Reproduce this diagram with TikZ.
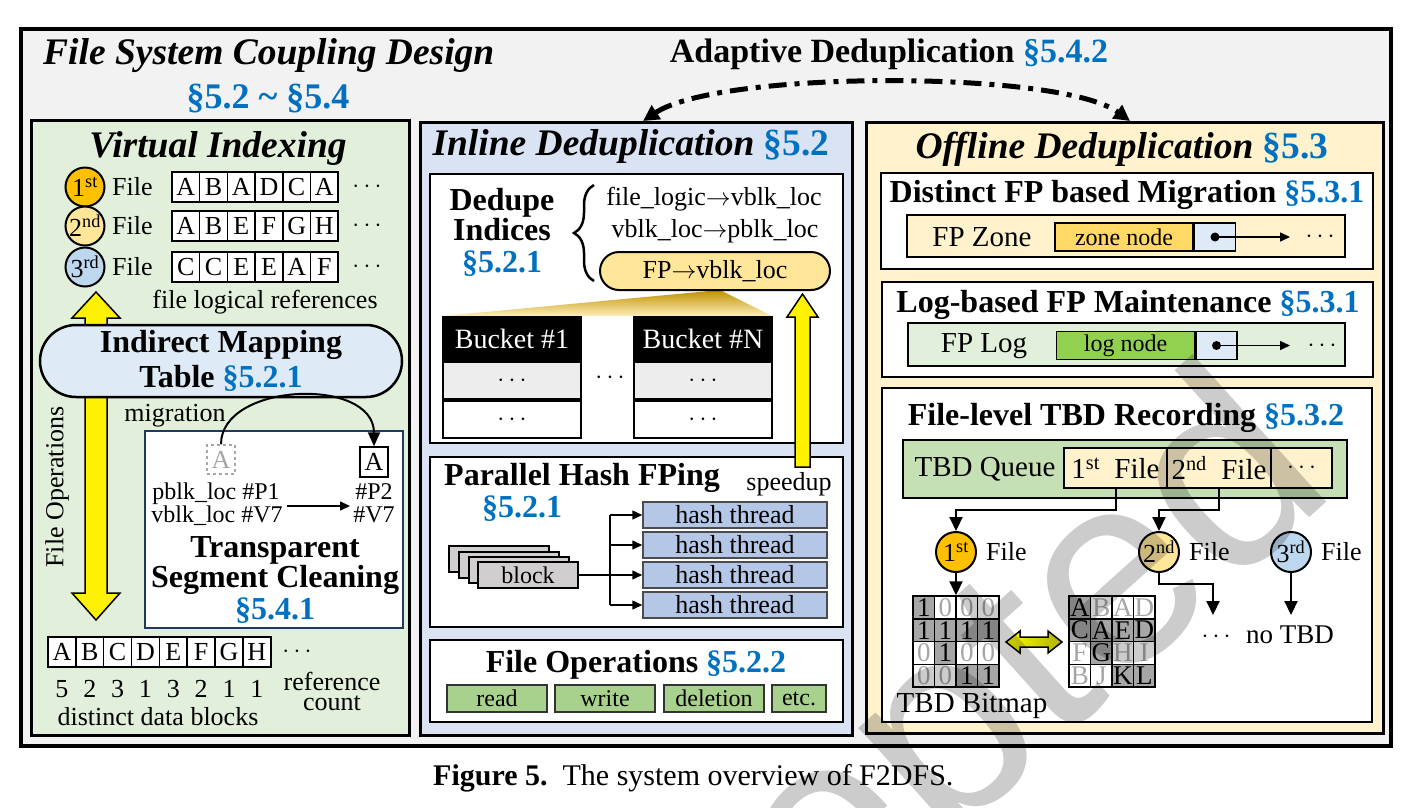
\documentclass[tikz,border=0pt]{standalone}
\usepackage{fontspec}
\setmainfont{Liberation Serif}
\newfontfamily\wmfont{Liberation Sans}
\usetikzlibrary{arrows.meta,decorations.pathreplacing}

\definecolor{bgray}{HTML}{F2F2F2}
\definecolor{vigreen}{HTML}{E2EFDA}
\definecolor{idblue}{HTML}{DAE3F3}
\definecolor{odyellow}{HTML}{FFF2CC}
\definecolor{secblue}{HTML}{0070C0}
\definecolor{c1st}{HTML}{FFC000}
\definecolor{c2nd}{HTML}{FFE699}
\definecolor{c3rd}{HTML}{BDD7EE}
\definecolor{imtblue}{HTML}{DEEBF7}
\definecolor{fpyellow}{HTML}{FFE699}
\definecolor{fpgold}{HTML}{BF9000}
\definecolor{rowgray}{HTML}{EDEDED}
\definecolor{hashblue}{HTML}{B4C7E7}
\definecolor{blkgray}{HTML}{D0CECE}
\definecolor{opgreen}{HTML}{A9D18E}
\definecolor{zonegold}{HTML}{FFD966}
\definecolor{ptrblue}{HTML}{DEEBF7}
\definecolor{loggreen}{HTML}{92D050}
\definecolor{qgreen}{HTML}{C5E0B4}
\definecolor{bitgray}{HTML}{A6A6A6}
\definecolor{tscnavy}{HTML}{1F3864}
\definecolor{dblolive}{HTML}{B0B000}

\newcommand\fTitle{\fontsize{37.5}{40}\selectfont\bfseries\itshape}
\newcommand\fHead{\fontsize{32}{34}\selectfont\bfseries}
\newcommand\fBody{\fontsize{26}{28}\selectfont}
\newcommand\fMid{\fontsize{29}{31}\selectfont}
\newcommand\fSmall{\fontsize{24}{26}\selectfont}
\newcommand\sref[1]{\textcolor{secblue}{\upshape\bfseries #1}}

\tikzset{
  panel/.style={draw=black,line width=3pt},
  subbox/.style={draw=black,fill=white,line width=2.5pt},
  txt/.style={inner sep=0pt,font=\fBody},
  hdr/.style={inner sep=0pt,font=\fHead,anchor=base},
  ttl/.style={inner sep=0pt,font=\fTitle,anchor=base},
  lcell/.style={draw=black,fill=white,line width=1.5pt,minimum width=27.7pt,minimum height=30pt,inner sep=0pt,font=\fBody},
  ordc/.style={circle,draw=black,line width=2pt,minimum size=39pt,inner sep=0pt,font=\fBody},
  bigarrow/.style={draw=black,fill=yellow,line width=1.5pt,line join=miter},
  conn/.style={line width=2pt,-{Triangle[length=14pt,width=13pt]}},
  thin arrow/.style={line width=1.5pt,-{Triangle[length=10pt,width=9pt]}},
  hcell/.style={draw=black!70,fill=hashblue,line width=1.5pt,minimum width=184pt,minimum height=26pt,inner sep=0pt,font=\fBody},
  opbtn/.style={draw=black!80,fill=opgreen,line width=1.5pt,minimum height=27pt,inner sep=0pt,font=\fSmall},
  gcell/.style={draw=black,line width=1.5pt,minimum width=21.5pt,minimum height=22.75pt,inner sep=0pt,font=\fontsize{27}{28}\selectfont},
  bit1/.style={gcell,fill=bitgray,text=black},
  bit0/.style={gcell,fill=white,text=black!35},
  listnode/.style={draw=black,line width=1.5pt,minimum width=138pt,minimum height=28pt,inner sep=0pt,font=\fSmall},
  ptrcell/.style={draw=black,line width=1.5pt,fill=ptrblue,minimum width=41pt,minimum height=28pt,inner sep=0pt,anchor=west},
}

\begin{document}
\begin{tikzpicture}[x=1pt,y=-1pt]
%%%%% START %%%%%
\useasboundingbox (0,0) rectangle (1408,807);
\fill[white] (0,0) rectangle (1408,807);

\draw[line width=4pt,fill=bgray] (21,29) rectangle (1391,746);
\node[ttl,anchor=base west] (fscd) at (43,64) {File System Coupling Design};
\node[hdr,font=\fontsize{36}{38}\selectfont\bfseries] (fscdsec) at (268,108) {\sref{\S5.2 \textasciitilde\ \S5.4}};
\node[hdr,font=\fontsize{34}{36}\selectfont\bfseries] (adap) at (889,62) {Adaptive Deduplication \sref{\S5.4.2}};

\draw[panel,fill=vigreen] (31,120) rectangle (409,735);
\draw[panel,fill=idblue] (420,122) rectangle (852,735);
\draw[panel,fill=odyellow] (866,122) rectangle (1383,733);

% virtual indexing
\node[ttl] (vi) at (218,157) {Virtual Indexing};
\foreach \ord/\col/\y/\seq [count=\n] in {st/c1st/187/{A,B,A,D,C,A},nd/c2nd/226/{A,B,E,F,G,H},rd/c3rd/267/{C,C,E,E,A,F}} {
  \node[ordc,fill=\col] (o\n) at (85,\y) {\n\textsuperscript{\ord}};
  \node[txt,anchor=west] (of\n) at (112,\y) {File};
  \foreach \ch [count=\i from 0] in \seq
    \node[lcell] (r\n-\i) at (185.85+27.7*\i,\y) {\ch};
  \node[txt] (rdots\n) at (367,\y) {$\cdots$};
}
\node[txt,anchor=base] (flr) at (265,308) {file logical references};

\draw[bigarrow] (85,318) -- (72,318) -- (96,292) -- (120,318) -- (107,318) -- (107,593)
  -- (120,593) -- (96,620) -- (72,593) -- (85,593) -- cycle;
\node[draw,line width=2.5pt,fill=imtblue,rounded corners=36pt,minimum width=362pt,minimum height=72pt,
  inner sep=0pt,align=center,font=\fontsize{32}{35}\selectfont\bfseries] (imt) at (221,361)
  {Indirect Mapping\\Table \sref{\S5.2.1}};
\node[txt,rotate=90] (fops) at (57,487) {File Operations};
\node[txt,anchor=base] (mig) at (175,421) {migration};

\draw[line width=2pt,draw=tscnavy,fill=white] (145,431) rectangle (403,628);
\node[draw=black!35,dashed,line width=1.5pt,minimum width=28pt,minimum height=29pt,inner sep=0pt,
  text=black!35,font=\fBody] (ga) at (221,459.5) {A};
\node[lcell] (a2) at (374,462) {A};
\draw[line width=2pt,-{Triangle[length=14pt,width=12pt]}] (ga.north) .. controls +(0,-62) and +(0,-70) .. (a2.north);
\node[txt,font=\fSmall,anchor=base] (pb) at (216,499) {pblk\_loc \#P1};
\node[txt,font=\fSmall,anchor=base] (vb) at (217,522) {vblk\_loc \#V7};
\node[txt,font=\fSmall,anchor=base] (p2) at (374,499) {\#P2};
\node[txt,font=\fSmall,anchor=base] (v7) at (374,522) {\#V7};
\coordinate (mvs) at (287,506);
\coordinate (mve) at (350,506);
\draw[thin arrow] (mvs) -- (mve);
\node[hdr] (tsc1) at (275,557) {Transparent};
\node[hdr] (tsc2) at (275,587) {Segment Cleaning};
\node[hdr] (tsc3) at (275,619) {\sref{\S5.4.1}};

\foreach \ch/\cnt [count=\i from 0] in {A/5,B/2,C/3,D/1,E/3,F/2,G/1,H/1} {
  \node[lcell,minimum width=27.85pt] (b\i) at (61.9+27.85*\i,652) {\ch};
  \node[txt,anchor=base] (n\i) at (61.9+27.85*\i,697) {\cnt};
}
\node[txt] (bdots) at (297,652) {$\cdots$};
\node[txt,anchor=base] (refc1) at (332,690) {reference};
\node[txt,anchor=base] (refc2) at (332,710) {count};
\node[txt,anchor=base] (ddb) at (158,725) {distinct data blocks};

% inline deduplication
\node[ttl] (inl) at (631,155) {Inline Deduplication \sref{\S5.2}};
\draw[subbox] (430,174) rectangle (843,443);
\node[hdr] (dd1) at (502,210) {Dedupe};
\node[hdr] (dd2) at (502,240) {Indices};
\node[hdr] (dd3) at (502,272) {\sref{\S5.2.1}};
\draw[line width=2.5pt,decorate,decoration={brace,amplitude=20pt,aspect=0.5}] (594,281) -- (594,185);
\node[txt,anchor=base] (m1) at (714,205) {file\_logic$\rightarrow$vblk\_loc};
\node[txt,anchor=base] (m2) at (715,237) {vblk\_loc$\rightarrow$pblk\_loc};
\shade[top color=fpgold,bottom color=fpyellow!70] (720,290) -- (772,316) -- (442,316) -- cycle;
\node[draw,line width=2pt,fill=fpyellow,rounded corners=19pt,minimum width=230pt,minimum height=38pt,
  inner sep=0pt,font=\fBody] (fp) at (715,271) {FP$\rightarrow$vblk\_loc};
\foreach \x/\lbl [count=\k] in {442/1,633/N} {
  \node[draw,line width=2pt,fill=black,text=white,minimum width=138pt,minimum height=43pt,inner sep=0pt,
    anchor=north west,font=\fontsize{28}{30}\selectfont] (bk\k) at (\x,316) {Bucket \#\lbl};
  \node[draw,line width=2pt,fill=rowgray,minimum width=138pt,minimum height=37pt,inner sep=0pt,
    anchor=north,font=\fBody] (bk\k a) at (bk\k.south) {$\cdots$};
  \node[draw,line width=2pt,fill=white,minimum width=138pt,minimum height=37pt,inner sep=0pt,
    anchor=north,font=\fBody] (bk\k b) at (bk\k a.south) {$\cdots$};
}
\node[txt] (bkdots) at (610,378) {$\cdots$};

\draw[subbox] (430,457) rectangle (843,627);
\node[hdr] (phf) at (582,485) {Parallel Hash FPing};
\node[hdr] (phfsec) at (522,517) {\sref{\S5.2.1}};
\node[txt,anchor=base] (spd) at (789,490) {speedup};
\draw[bigarrow] (795,467) -- (795,317) -- (787,317) -- (802.5,294) -- (818,317) -- (810,317) -- (810,467) -- cycle;
\foreach \dx/\dy in {0/0,10/6,20/11}
  \draw[fill=blkgray,line width=1.5pt] (449+\dx,546+\dy) rectangle ++(100,26);
\node[draw,fill=blkgray,line width=1.5pt,minimum width=100pt,minimum height=26pt,inner sep=0pt,
  font=\fSmall] (blk) at (528,575) {block};
\foreach \i in {1,...,4}
  \node[hcell] (h\i) at (735,485+30*\i) {hash thread};
\coordinate (split) at (610,575);
\draw[line width=1.5pt] (blk.east) -- (split);
\draw[line width=1.5pt] (split |- h1.west) -- (split |- h4.west);
\foreach \i in {1,...,4}
  \draw[thin arrow] (split |- h\i.west) -- (h\i.west);

\draw[subbox] (430,640) rectangle (843,722);
\node[hdr] (fop) at (636,672) {File Operations \sref{\S5.2.2}};
\foreach \x/\w/\op [count=\k] in {497/100pt/read,605/100pt/write,714/100pt/deletion,799/54pt/etc.}
  \node[opbtn,minimum width=\w] (op\k) at (\x,698.5) {\op};

% offline deduplication
\node[ttl] (off) at (1122,158) {Offline Deduplication \sref{\S5.3}};
\draw[subbox] (881,173) rectangle (1373,269);
\node[hdr] (dfp) at (1127,202) {Distinct FP based Migration \sref{\S5.3.1}};
\node[draw,line width=2pt,fill=odyellow,minimum width=438pt,minimum height=42pt,inner sep=0pt] (fpz) at (1126,236) {};
\node[txt,font=\fMid] (fpzl) at (982,237) {FP Zone};
\node[listnode,fill=zonegold] (zn) at (1124,237) {zone node};
\node[ptrcell] (zp) at (zn.east) {};
\fill (zp.center) circle (4.5);
\coordinate (zend) at (1290,237);
\draw[thin arrow] (zp.center) -- (zend);
\node[txt] (zdots) at (1320,237) {$\cdots$};

\draw[subbox] (882,282) rectangle (1373,377);
\node[hdr] (lfp) at (1128,312) {Log-based FP Maintenance \sref{\S5.3.1}};
\node[draw,line width=2pt,fill=vigreen,minimum width=437pt,minimum height=43pt,inner sep=0pt] (fpl) at (1126.5,344.5) {};
\node[txt,font=\fMid] (fpll) at (984,346) {FP Log};
\node[listnode,fill=loggreen] (ln) at (1125.5,345.5) {log node};
\node[ptrcell] (lp) at (ln.east) {};
\fill (lp.center) circle (4.5);
\coordinate (lend) at (1290,345.5);
\draw[thin arrow] (lp.center) -- (lend);
\node[txt] (ldots) at (1322,345.5) {$\cdots$};

\draw[subbox] (882,388) rectangle (1372,722);
\node[hdr] (ftr) at (1126,425) {File-level TBD Recording \sref{\S5.3.2}};
\node[draw,line width=2.5pt,fill=qgreen,minimum width=444pt,minimum height=58pt,inner sep=0pt] (tq) at (1125,469) {};
\node[txt,font=\fMid] (tql) at (985,469) {TBD Queue};
\node[draw,line width=2pt,fill=odyellow,minimum width=103pt,minimum height=40pt,inner sep=0pt,font=\fMid] (q1) at (1115.5,468) {1\textsuperscript{st}\ \ File};
\node[draw,line width=2pt,fill=odyellow,minimum width=104pt,minimum height=40pt,inner sep=0pt,font=\fMid] (q2) at (1219,468) {2\textsuperscript{nd}\ \ File};
\node[draw,line width=2pt,fill=odyellow,minimum width=61pt,minimum height=40pt,inner sep=0pt,font=\fMid] (q3) at (1301.5,468) {$\cdots$};

\foreach \ord/\col/\x [count=\n] in {st/c1st/956,nd/c2nd/1159,rd/c3rd/1291} {
  \node[ordc,minimum size=40pt,fill=\col] (t\n) at (\x,552) {\n\textsuperscript{\ord}};
  \node[txt,anchor=west] (tf\n) at ([xshift=9pt]t\n.east) {File};
}
\draw[conn] (q1.south) -- ++(0,21) -| (t1.north);
\draw[conn] (q2.south) -- ++(0,21) -| (t2.north);

\foreach \row [count=\r from 0] in {{1,0,0,0},{1,1,1,1},{0,1,0,0},{0,0,1,1}}
  \foreach \v [count=\c from 0] in \row
    \node[bit\v] (bm\r\c) at (923.75+21.5*\c,607.4+22.75*\r) {\v};
\foreach \row [count=\r from 0] in {{A/1,B/0,A/0,D/0},{C/1,A/1,E/1,D/1},{F/0,G/1,H/0,I/0},{B/0,J/0,K/1,L/1}}
  \foreach \ch/\v [count=\c from 0] in \row
    \node[bit\v] (lg\r\c) at (1079.75+21.5*\c,607.4+22.75*\r) {\ch};
\draw[conn] (t1.south) -- (t1.south |- bm00.north);
\draw[line width=1.5pt,left color=yellow,right color=dblolive] (1006,642) -- (1020,631) -- (1020,637) -- (1048,637)
  -- (1048,631) -- (1062,642) -- (1048,653) -- (1048,647) -- (1020,647) -- (1020,653) -- cycle;
\node[txt,font=\fMid,anchor=base] (tbm) at (972,712) {TBD Bitmap};

\coordinate (t2end) at (1213,615);
\draw[conn] (t2.south) -- ++(0,11) -| (t2end);
\node[txt] (t2dots) at (1216,637) {$\cdots$};
\node[txt,anchor=base,font=\fontsize{27}{29}\selectfont] (notbd) at (1290,643) {no TBD};
\coordinate (t3end) at (1291,615);
\draw[conn] (t3.south) -- (t3end);

% adaptive deduplication
\coordinate (adl) at (643,121);
\coordinate (adr) at (1130,121);
\draw[line width=5pt,dash pattern=on 18pt off 8pt on 5pt off 8pt,
  {Triangle[length=16pt,width=16pt]}-{Triangle[length=16pt,width=16pt]}]
  (adl) .. controls (720,70) and (1060,70) .. (adr);

\node[anchor=base west,inner sep=0pt,font=\fontsize{30}{32}\selectfont] (cap) at (433,785)
  {\textbf{Figure 5.}\ \ The system overview of F2DFS.};

\node[rotate=42,anchor=base east,inner sep=0pt,font=\wmfont\fontsize{275}{275}\selectfont,
  text=black,opacity=0.2] (wm) at (1340,490) {Accepted};
%%%%% END %%%%%
\end{tikzpicture}
\end{document}
